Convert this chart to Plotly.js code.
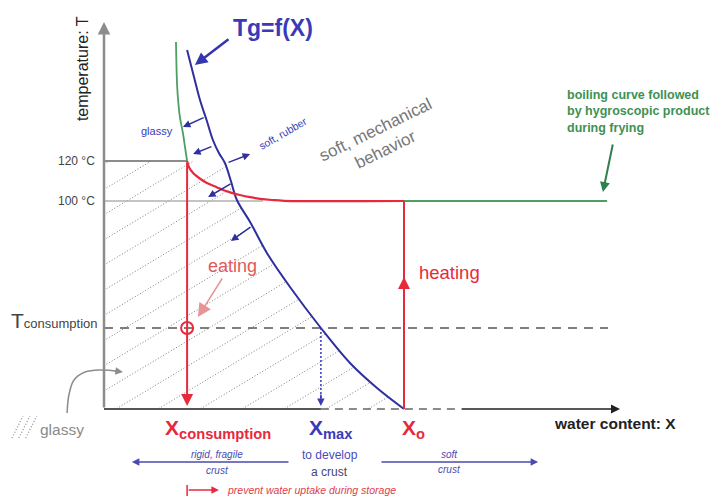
<!DOCTYPE html>
<html>
<head>
<meta charset="utf-8">
<script src="https://cdn.plot.ly/plotly-3.0.1.min.js"></script>
<style>
  html, body { margin: 0; padding: 0; background: #fff; }
  #chart { width: 725px; height: 501px; }
</style>
</head>
<body>
<div id="chart"></div>
<script>
// Key state points of the frying / crust diagram (water content X, temperature T in °C)
const T120 = 120;
const T100 = 100;
const Tcons = 36.5;
const Tbase = -4;
const Xcons = 0.277;
const Xmax = 0.723;
const Xo = 1.0;
const Xend = 1.677;

// Glass transition curve Tg = f(X)
const tgX = [0.277, 0.300, 0.320, 0.343, 0.363, 0.383, 0.403, 0.423, 0.443, 0.487, 0.543, 0.620, 0.723, 0.820, 0.910, 1.000];
const tgT = [175.5, 162, 150.5, 140, 130.5, 124, 119, 110, 100.5, 89.5, 74, 57, 36.5, 19, 6.5, -4];

// Boiling curve of the hygroscopic product (upper part)
const boilX = [0.240, 0.242, 0.244, 0.247, 0.253, 0.263, 0.270, 0.277];
const boilT = [179.5, 165, 157, 150.5, 142, 134, 127, 120];

// Frying path: from the 120 °C point down to the 100 °C plateau and on to Xo
const pathX = [0.277, 0.283, 0.297, 0.317, 0.343, 0.377, 0.397, 0.423, 0.453, 0.487, 0.520, 0.560, 0.600, 1.000];
const pathT = [120, 117, 114, 111.5, 109, 106.8, 105.5, 104.2, 103, 101.9, 101.1, 100.5, 100.1, 100];

// Boiling plateau followed during frying
const plateauX = [Xo, Xend];
const plateauT = [T100, T100];

// Axis tick labels
const tickT = [T120, T100, Tcons];
const tickText = ['120 °C', '100 °C',
  '<span style="font-size:21px">T</span><span style="font-size:13px">consumption</span>'];

const FONT = 'Liberation Sans, Arial, sans-serif';
const BLUE = '#2f2f9e';
const BLUE_TXT = '#3a3ab8';
const RED = '#e62a3c';
const GREEN = '#4f9e62';
const GRAY = '#8c8c8c';

// ---- diagonal hatching of the glassy region (texture only) ----
const glassPoly = [[0, Tbase], [0, T120], [Xcons, T120]];
tgX.forEach((x, i) => { if (tgT[i] <= T120) glassPoly.push([x, tgT[i]]); });
glassPoly.push([Xo, Tbase]);

function inside(pt, poly) {
  let c = false;
  for (let i = 0, j = poly.length - 1; i < poly.length; j = i++) {
    const [xi, yi] = poly[i], [xj, yj] = poly[j];
    if (((yi > pt[1]) !== (yj > pt[1])) &&
        (pt[0] < (xj - xi) * (pt[1] - yi) / (yj - yi) + xi)) c = !c;
  }
  return c;
}
const hatchSlope = 90;      // °C per unit X (about 31° on screen)
const hatchStep = 0.14;     // spacing along the X axis
const hx = [], hy = [];
for (let c = -2.2; c < 1.1; c += hatchStep) {
  let run = false;
  for (let x = 0; x <= 1.05; x += 0.002) {
    const y = Tbase + hatchSlope * (x - c);
    const ok = inside([x, y], glassPoly);
    if (ok) { hx.push(x); hy.push(y); run = true; }
    else if (run) { hx.push(null); hy.push(null); run = false; }
  }
  if (run) { hx.push(null); hy.push(null); }
}

function line(x, y, color, width, dash, shape) {
  return { type: 'scatter', mode: 'lines', x: x, y: y, hoverinfo: 'skip',
           line: { color: color, width: width, dash: dash || 'solid', shape: shape || 'linear' } };
}

const traces = [
  line(hx, hy, '#7d7d7d', 1, '1px,2px'),
  line([0, 0.53], [T100, T100], '#b0b0b0', 1.3),
  line([0, Xcons], [T120, T120], '#666666', 1.5),
  line([0, Xend + 0.003], [Tcons, Tcons], '#555555', 1.5, '9px,7px'),
  line([0, Xmax], [Tbase, Tbase], '#555555', 2),
  line([Xmax, 1.187], [Tbase, Tbase], '#666666', 1.5, '8px,6px'),
  line(boilX, boilT, GREEN, 1.8, 'solid', 'spline'),
  line(plateauX, plateauT, GREEN, 2.2),
  line(tgX, tgT, BLUE, 2, 'solid', 'spline'),
  line(pathX, pathT, RED, 2.2, 'solid', 'spline'),
  line([Xo, Xo], [Tbase, T100], RED, 2),
  line([Xmax, Xmax], [Tcons, 0], BLUE_TXT, 1.5, '2px,2px'),
  line([Xcons, Xcons], [-42, -47.5], RED, 1.5),
  // curved pointer of the "glassy" key
  line([-0.123, -0.117, -0.100, -0.063, -0.013, 0.050], [-6, 3, 10.5, 14.5, 15.5, 14.8], GRAY, 1.5, 'solid', 'spline'),
  // hatch swatch of the key
  line([-0.307, -0.270, null, -0.284, -0.247, null, -0.261, -0.224],
       [-18.5, -7.5, null, -18.5, -7.5, null, -18.5, -7.5], '#8a8a8a', 1.2, '1px,2px'),
  { type: 'scatter', mode: 'markers', x: [Xcons], y: [Tcons], hoverinfo: 'skip',
    marker: { symbol: 'circle-open', size: 12, color: RED, line: { width: 2, color: RED } } }
];

function arrow(x, y, ax, ay, color, width, size) {
  return { x: x, y: y, ax: ax, ay: ay, xref: 'x', yref: 'y', axref: 'x', ayref: 'y',
           text: '', showarrow: true, arrowhead: 2, arrowsize: size || 1,
           arrowwidth: width, arrowcolor: color, standoff: 0, startstandoff: 0 };
}
function label(x, y, text, size, color, opts) {
  return Object.assign({ x: x, y: y, xref: 'x', yref: 'y', text: text, showarrow: false,
           font: { family: FONT, size: size, color: color } }, opts || {});
}

const annotations = [
  // axes
  arrow(0, 189.5, 0, Tbase, GRAY, 2.5, 1),
  arrow(1.72, Tbase, 1.187, Tbase, '#222222', 1.5, 1.2),
  // frying path arrows
  arrow(Xcons, -2.5, Xcons, T120, RED, 2, 1.2),
  arrow(Xo, 62, Xo, 45, RED, 2, 1.2),
  arrow(Xmax, -2.5, Xmax, 4, BLUE_TXT, 1.5, 1),
  // Tg pointer and state arrows
  arrow(0.303, 168, 0.42, 181.5, '#3535b0', 2.5, 1),
  arrow(0.263, 137, 0.337, 142, BLUE, 1.5, 1),
  arrow(0.297, 123.5, 0.363, 127.5, BLUE, 1.5, 1),
  arrow(0.487, 123.5, 0.41, 119, BLUE, 1.5, 1),
  arrow(0.347, 102, 0.427, 109, BLUE, 1.5, 1),
  arrow(0.423, 80, 0.493, 87.5, BLUE, 1.5, 1),
  arrow(1.663, 104.5, 1.697, 129, '#2f7f4f', 2, 1),
  arrow(0.313, 42, 0.397, 62, '#e79494', 1.5, 1.8),
  arrow(0.063, 14.5, 0.03, 15.2, GRAY, 1.5, 1),
  // bottom ranges
  arrow(0.093, -30.5, 0.62, -30.5, '#4a4ab0', 1.5, 1),
  arrow(1.447, -30.5, 0.92, -30.5, '#4a4ab0', 1.5, 1),
  arrow(0.383, -44.5, Xcons, -44.5, RED, 1.5, 1),

  // texts
  label(0.563, 186.5, '<b>Tg=f(X)</b>', 23, BLUE_TXT),
  label(0.177, 135, 'glassy', 11, BLUE_TXT),
  label(0.597, 134, 'soft, rubber', 10.5, BLUE_TXT, { textangle: -30 }),
  label(0.923, 130.75, 'soft, mechanical<br>behavior', 17, '#777777', { textangle: -26 }),
  label(1.537, 157.5, '<b>boiling curve followed<br>by hygroscopic product<br>during frying</b>', 12.5, '#3d9155',
        { xanchor: 'left', yanchor: 'top', align: 'left' }),
  label(0.427, 67.5, 'eating', 18, '#e05a5a'),
  label(1.043, 64.5, 'heating', 18.5, RED, { xanchor: 'left' }),

  label(-0.023, T120, tickText[0], 12, '#444444', { xanchor: 'right' }),
  label(-0.023, T100, tickText[1], 12, '#444444', { xanchor: 'right' }),
  label(-0.013, Tcons + 4, tickText[2], 12, '#444444', { xanchor: 'right' }),

  label(-0.073, 166, 'temperature: T', 16, '#222222', { textangle: -90 }),
  label(1.493, -11, '<b>water content: X</b>', 15.5, '#222222', { xanchor: 'left' }),

  label(0.197, -14, '<b>X<sub>consumption</sub></b>', 21, RED, { xanchor: 'left' }),
  label(0.677, -14, '<b>X<sub>max</sub></b>', 21, BLUE_TXT, { xanchor: 'left' }),
  label(0.987, -14, '<b>X<sub>o</sub></b>', 21, RED, { xanchor: 'left' }),

  label(-0.14, -14, 'glassy', 15.5, '#8a8a8a'),
  label(0.377, -26.5, '<i>rigid, fragile</i>', 10, '#4a4ab0'),
  label(0.377, -34.5, '<i>crust</i>', 10, '#4a4ab0'),
  label(0.753, -27, 'to develop', 12, '#4a4ab8'),
  label(0.753, -35.5, 'a crust', 12, '#44447a'),
  label(1.153, -26.5, '<i>soft</i>', 10, '#4a4ab0'),
  label(1.153, -34, '<i>crust</i>', 10, '#4a4ab0'),
  label(0.403, -44.5, '<i>prevent water uptake during storage</i>', 10.5, '#e0404a', { xanchor: 'left' })
];

const layout = {
  width: 725, height: 501,
  margin: { l: 0, r: 0, t: 0, b: 0 },
  paper_bgcolor: '#ffffff', plot_bgcolor: '#ffffff',
  showlegend: false,
  xaxis: { range: [-104 / 300, 621 / 300], visible: false, fixedrange: true },
  yaxis: { range: [-50, 200.5], visible: false, fixedrange: true },
  annotations: annotations,
  font: { family: FONT }
};

Plotly.newPlot('chart', traces, layout, { displayModeBar: false, staticPlot: true });
</script>
</body>
</html>
